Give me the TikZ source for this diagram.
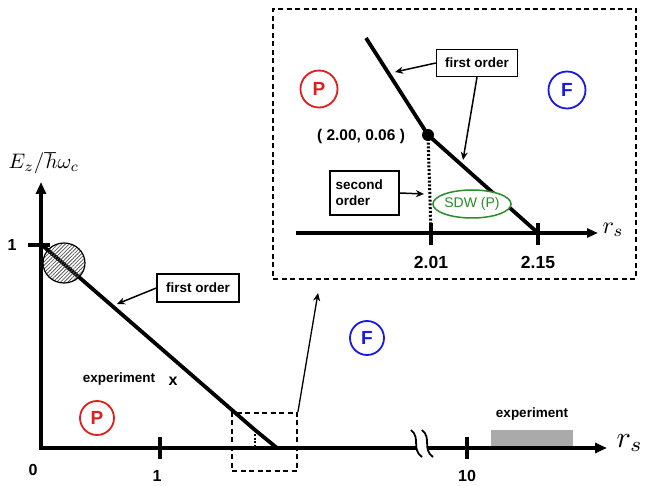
\documentclass[tikz,border=0pt]{standalone}
\usepackage{fontspec}
\setmainfont{Liberation Sans}
\usetikzlibrary{arrows.meta,patterns.meta,shapes.geometric}
\definecolor{phaseP}{RGB}{225,30,30}
\definecolor{phaseF}{RGB}{25,25,225}
\definecolor{sdwgreen}{RGB}{40,140,40}
\definecolor{bargray}{RGB}{170,170,170}
\begin{document}
\begin{tikzpicture}[x=1pt,y=-1pt,
  thickaxis/.style={line width=4pt},
  axtip/.style={-{Triangle[length=12pt,width=10pt]}},
  tick/.style={line width=3.5pt},
  phaseline/.style={line width=3.8pt},
  dotline/.style={line width=3pt,dash pattern=on 2pt off 1.8pt},
  pointer/.style={line width=1.5pt,-{Stealth[length=8pt,width=7pt,inset=2.5pt]}},
  labelbox/.style={draw,line width=1.4pt,fill=white,inner sep=0pt,align=left,font=\fontsize{13.5}{16}\selectfont\bfseries},
  zoomframe/.style={draw,line width=1.8pt,dash pattern=on 5pt off 3.5pt,inner sep=0pt},
  numlabel/.style={font=\fontsize{16}{16}\selectfont\bfseries},
  phaseP/.style={circle,draw=phaseP,text=phaseP,line width=1.8pt,minimum size=34pt,inner sep=0pt,font=\fontsize{19}{19}\selectfont\bfseries},
  phaseF/.style={circle,draw=phaseF,text=phaseF,line width=1.8pt,minimum size=34pt,inner sep=0pt,font=\fontsize{19}{19}\selectfont\bfseries},
  smalltext/.style={font=\fontsize{13.5}{13.5}\selectfont\bfseries}
]
\useasboundingbox (0,0) rectangle (646,486);

% ---------------- main diagram ----------------
% experimental range on the r_s axis
\node[fill=bargray,minimum width=82pt,minimum height=18pt,inner sep=0pt] (expbar) at (532,439) {};
\node[smalltext] (explab) at (532,414) {experiment};

% axes
\coordinate (ytop) at (41,182);
\coordinate (orig) at (41,448);
\coordinate (brkL) at (417,448);
\coordinate (brkR) at (428,448);
\coordinate (xend) at (607,448);
\draw[thickaxis,{Triangle[length=12pt,width=10pt]}-] (ytop) -- (orig) -- (brkL);
\draw[thickaxis,axtip] (brkR) -- (xend);
% axis break
\draw[line width=1.8pt] (411,430) .. controls (421,438) and (411,449) .. (422,457);
\draw[line width=1.8pt] (422,430) .. controls (432,438) and (422,449) .. (433,457);

\node (ylab) at (44,163) {\scalebox{2.1}{$E_z/\hbar\omega_c$}};
\node[anchor=west] (xlab) at (613,443) {\scalebox{3}{$r_s$}};

% ticks
\coordinate (yt1) at (28,245);
\coordinate (yt2) at (50,245);
\draw[tick] (yt1) -- (yt2);
\node[numlabel] (y1) at (12,245) {1};
\coordinate (xt1a) at (160,437); \coordinate (xt1b) at (160,459);
\draw[tick] (xt1a) -- (xt1b);
\coordinate (xt10a) at (467,437); \coordinate (xt10b) at (467,459);
\draw[tick] (xt10a) -- (xt10b);
\node[numlabel] (x0) at (33,470) {0};
\node[numlabel] (x1) at (157,476) {1};
\node[numlabel] (x10) at (467,476) {10};

% first-order line
\coordinate (fa) at (42,245);
\coordinate (fb) at (255,430);
\coordinate (fc) at (277,448);
\coordinate (fd) at (255,448);
\draw[phaseline] (fa) -- (fb) -- (fc);
\draw[dotline,line width=2.6pt] (fb) -- (fd);

% hatched region near the top of the axis
\node[ellipse,draw,line width=1.2pt,fill=white,minimum width=42pt,minimum height=40pt,inner sep=0pt,
      pattern={Lines[angle=45,distance=2.6pt,line width=0.8pt]},pattern color=black!65] (blob) at (64,263) {};

\node[labelbox,minimum width=82pt,minimum height=28pt,align=center] (fo1) at (198,288) {first order};
\coordinate (fo1tip) at (117,304);
\draw[pointer] (fo1.west) -- (fo1tip);

\node[smalltext] (exptext) at (119,379) {experiment};
\node[font=\fontsize{16}{16}\selectfont\bfseries] (expx) at (173,381) {x};

\node[phaseP] (P1) at (97,418) {P};
\node[phaseF] (F1) at (367,338) {F};

% zoom window and enlarged view
\node[zoomframe,minimum width=65pt,minimum height=58pt] (zoomsmall) at (264.5,442) {};
\node[zoomframe,minimum width=363pt,minimum height=270pt] (zoombig) at (454.5,144) {};
\coordinate (zoomtip) at (318,293);
\draw[pointer,line width=1.3pt] (zoomsmall.north east) -- (zoomtip);

% ---------------- enlarged view ----------------
\coordinate (ia) at (296,233);
\coordinate (ib) at (598,233);
\draw[line width=3.8pt,-{Triangle[length=11pt,width=9pt]}] (ia) -- (ib);
\node[anchor=west] (ixlab) at (599,230) {\scalebox{2.4}{$r_s$}};

\coordinate (it1a) at (431,223); \coordinate (it1b) at (431,245);
\coordinate (it2a) at (538,223); \coordinate (it2b) at (538,245);
\draw[tick] (it1a) -- (it1b);
\draw[tick] (it2a) -- (it2b);
\node[numlabel,font=\fontsize{17.5}{17.5}\selectfont\bfseries] (l201) at (431,262) {2.01};
\node[numlabel,font=\fontsize{17.5}{17.5}\selectfont\bfseries] (l215) at (538,262) {2.15};

\coordinate (ga) at (366,38);
\coordinate (gb) at (428,135);
\coordinate (gc) at (538,233);
\draw[phaseline] (ga) -- (gb) -- (gc);
\coordinate (gd) at (431,233);
\draw[dotline] (gb) -- (gd);
\node[circle,fill=black,minimum size=12pt,inner sep=0pt] (crit) at (gb) {};
\node[font=\fontsize{15.5}{15.5}\selectfont\bfseries] (critlab) at (361,136) {( 2.00, 0.06 )};

\node[labelbox,minimum width=81pt,minimum height=27pt,align=center] (fo2) at (477,63) {first order};
\coordinate (fo2tipA) at (395,72);
\coordinate (fo2tipB) at (463,160);
\draw[pointer] (fo2.west) -- (fo2tipA);
\draw[pointer] (fo2.south) -- (fo2tipB);

\node[phaseP,minimum size=37pt] (P2) at (319,89) {P};
\node[phaseF,minimum size=37pt] (F2) at (567,90) {F};

\node[labelbox,minimum width=69pt,minimum height=44pt,text width=58pt] (so) at (364.5,193) {second\\order};
\coordinate (sotip) at (424,194);
\draw[pointer] (so.east) -- (sotip);

\node[ellipse,draw=sdwgreen,text=sdwgreen,fill=white,line width=1.5pt,minimum width=76pt,minimum height=28pt,inner sep=0pt,
      font=\fontsize{14}{14}\selectfont] (sdw) at (472,204) {SDW (P)};
\end{tikzpicture}
\end{document}
